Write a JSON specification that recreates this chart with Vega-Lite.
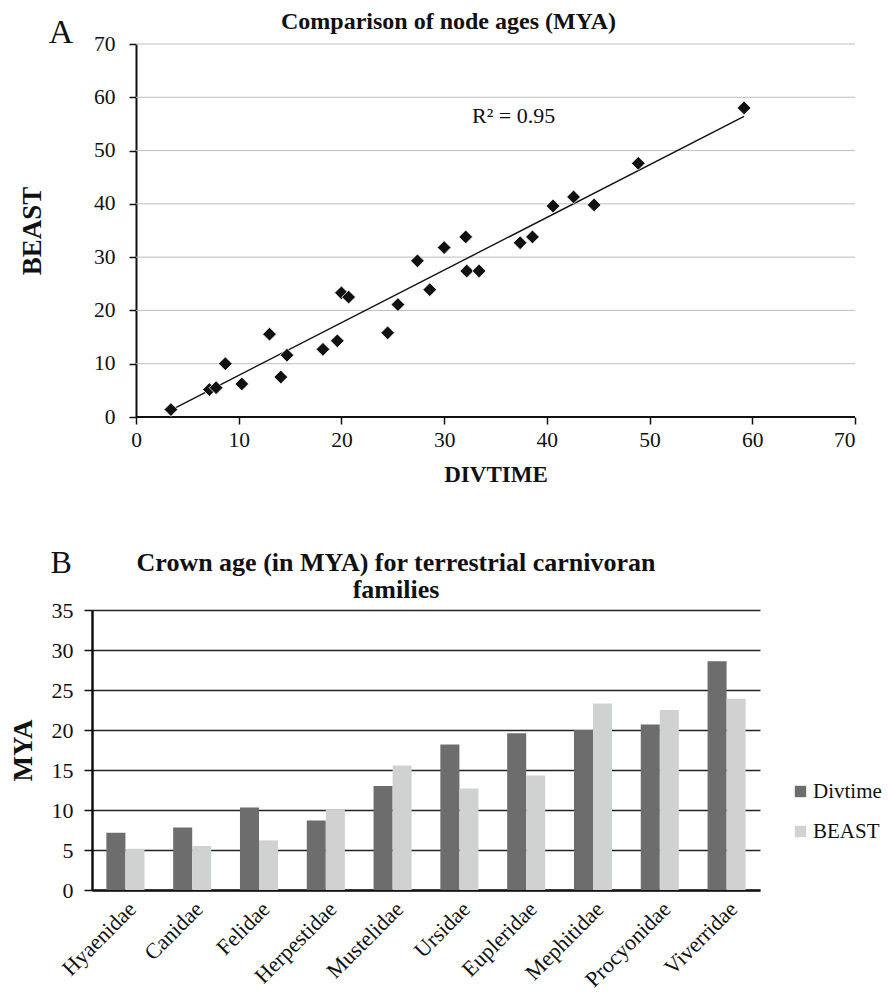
{
  "$schema": "https://vega.github.io/schema/vega-lite/v6.json",
  "background": "white",
  "padding": {"left": 9, "top": 10, "right": 0, "bottom": 0},
  "config": {
    "font": "Liberation Serif",
    "view": {"stroke": null},
    "axis": {"labelFont": "Liberation Serif", "titleFont": "Liberation Serif", "labelColor": "#111", "titleColor": "#111", "domainColor": "#111", "tickColor": "#111"},
    "title": {"font": "Liberation Serif", "fontWeight": "bold", "color": "#111"},
    "legend": {"labelFont": "Liberation Serif"}
  },
  "columns": 1,
  "align": "none",
  "spacing": 59,
  "resolve": {"legend": {"color": "independent"}, "scale": {"color": "independent"}},
  "concat": [
    {
      "width": 763,
      "height": 373,
      "title": {"text": "Comparison of node ages (MYA)", "font": "Liberation Serif", "fontSize": 24, "dx": -25, "offset": -18},
      "data": {"values": [
        {"divtime": 3.4, "beast": 1.4}, {"divtime": 7.15, "beast": 5.15}, {"divtime": 7.8, "beast": 5.5},
        {"divtime": 8.7, "beast": 10.0}, {"divtime": 10.3, "beast": 6.2}, {"divtime": 13.0, "beast": 15.55},
        {"divtime": 14.1, "beast": 7.5}, {"divtime": 14.7, "beast": 11.6}, {"divtime": 18.2, "beast": 12.7},
        {"divtime": 19.6, "beast": 14.3}, {"divtime": 20.0, "beast": 23.3}, {"divtime": 20.7, "beast": 22.5},
        {"divtime": 24.5, "beast": 15.8}, {"divtime": 25.5, "beast": 21.1}, {"divtime": 27.4, "beast": 29.3},
        {"divtime": 28.6, "beast": 23.9}, {"divtime": 30.0, "beast": 31.8}, {"divtime": 32.1, "beast": 33.8},
        {"divtime": 32.2, "beast": 27.4}, {"divtime": 33.4, "beast": 27.4}, {"divtime": 37.4, "beast": 32.7},
        {"divtime": 38.6, "beast": 33.8}, {"divtime": 40.6, "beast": 39.6}, {"divtime": 42.6, "beast": 41.3},
        {"divtime": 44.6, "beast": 39.8}, {"divtime": 48.9, "beast": 47.6}, {"divtime": 59.2, "beast": 58.0}
      ]},
      "encoding": {
        "x": {"field": "divtime", "type": "quantitative", "scale": {"domain": [-4.284, 70], "nice": false, "zero": false},
          "axis": {"values": [0, 10, 20, 30, 40, 50, 60, 70], "grid": false, "domain": false, "tickSize": 7, "tickWidth": 1.5, "labelFont": "Liberation Serif", "labelFontSize": 21.5, "labelPadding": 5, "labelOverlap": false, "title": "DIVTIME", "titleFont": "Liberation Serif", "titleFontSize": 23, "titleFontWeight": "bold", "titlePadding": 13, "titleX": 403.5}},
        "y": {"field": "beast", "type": "quantitative", "scale": {"domain": [0, 70], "nice": false},
          "axis": {"values": [0, 10, 20, 30, 40, 50, 60, 70], "grid": false, "offset": -44, "tickSize": 7, "domainWidth": 2, "tickWidth": 1.5, "labelFont": "Liberation Serif", "labelFontSize": 21.5, "labelPadding": 14, "labelOverlap": false, "title": "BEAST", "titleFont": "Liberation Serif", "titleFontSize": 27, "titleFontWeight": "bold", "titlePadding": 47}}
      },
      "layer": [
        {
          "data": {"values": [
            {"divtime": 0, "divtime2": 70, "beast": 10}, {"divtime": 0, "divtime2": 70, "beast": 20},
            {"divtime": 0, "divtime2": 70, "beast": 30}, {"divtime": 0, "divtime2": 70, "beast": 40},
            {"divtime": 0, "divtime2": 70, "beast": 50}, {"divtime": 0, "divtime2": 70, "beast": 60},
            {"divtime": 0, "divtime2": 70, "beast": 70}
          ]},
          "mark": {"type": "rule", "color": "#bdbdbd", "strokeWidth": 1},
          "encoding": {"x2": {"field": "divtime2"}}
        },
        {
          "data": {"values": [{"divtime": 0, "divtime2": 70, "beast": 0}]},
          "mark": {"type": "rule", "color": "#111", "strokeWidth": 2},
          "encoding": {"x2": {"field": "divtime2"}}
        },
        {
          "transform": [{"regression": "beast", "on": "divtime"}],
          "mark": {"type": "line", "color": "#111", "strokeWidth": 1.4},
          "encoding": {}
        },
        {
          "mark": {"type": "point", "shape": "diamond", "filled": true, "size": 190, "color": "#111", "stroke": "white", "strokeWidth": 0.8, "opacity": 1},
          "encoding": {}
        },
        {
          "data": {"values": [{"divtime": 36.76, "beast": 56.5, "t": "R² = 0.95"}]},
          "mark": {"type": "text", "fontSize": 22, "font": "Liberation Serif", "color": "#111"},
          "encoding": {"text": {"field": "t"}}
        },
        {
          "data": {"values": [{"divtime": -7.3, "beast": 72.0, "t": "A"}]},
          "mark": {"type": "text", "fontSize": 34, "font": "Liberation Serif", "color": "#111"},
          "encoding": {"text": {"field": "t"}}
        }
      ]
    },
    {
      "width": 668,
      "height": 280,
      "title": {"text": ["Crown age (in MYA) for terrestrial carnivoran", "families"], "font": "Liberation Serif", "fontSize": 26, "lineHeight": 27, "dx": -30, "offset": -56},
      "encoding": {
        "y": {"field": "value", "type": "quantitative", "scale": {"domain": [0, 35], "nice": false},
          "axis": {"values": [0, 5, 10, 15, 20, 25, 30, 35], "grid": true, "gridColor": "#222", "gridWidth": 1.5, "tickSize": 8, "tickWidth": 1.5, "domainWidth": 2.5, "labelFont": "Liberation Serif", "labelFontSize": 22, "labelPadding": 11, "labelOverlap": false, "title": "MYA", "titleFont": "Liberation Serif", "titleFontSize": 27, "titleFontWeight": "bold", "titlePadding": 14}}
      },
      "layer": [
        {
          "data": {"values": [
            {"family": "Hyaenidae", "series": "Divtime", "value": 7.15}, {"family": "Hyaenidae", "series": "BEAST", "value": 5.15},
            {"family": "Canidae", "series": "Divtime", "value": 7.8}, {"family": "Canidae", "series": "BEAST", "value": 5.5},
            {"family": "Felidae", "series": "Divtime", "value": 10.3}, {"family": "Felidae", "series": "BEAST", "value": 6.2},
            {"family": "Herpestidae", "series": "Divtime", "value": 8.7}, {"family": "Herpestidae", "series": "BEAST", "value": 10.0},
            {"family": "Mustelidae", "series": "Divtime", "value": 13.0}, {"family": "Mustelidae", "series": "BEAST", "value": 15.55},
            {"family": "Ursidae", "series": "Divtime", "value": 18.2}, {"family": "Ursidae", "series": "BEAST", "value": 12.7},
            {"family": "Eupleridae", "series": "Divtime", "value": 19.6}, {"family": "Eupleridae", "series": "BEAST", "value": 14.3},
            {"family": "Mephitidae", "series": "Divtime", "value": 20.0}, {"family": "Mephitidae", "series": "BEAST", "value": 23.3},
            {"family": "Procyonidae", "series": "Divtime", "value": 20.7}, {"family": "Procyonidae", "series": "BEAST", "value": 22.5},
            {"family": "Viverridae", "series": "Divtime", "value": 28.6}, {"family": "Viverridae", "series": "BEAST", "value": 23.9}
          ]},
          "mark": {"type": "bar"},
          "encoding": {
            "x": {"field": "family", "type": "nominal",
              "sort": ["Hyaenidae", "Canidae", "Felidae", "Herpestidae", "Mustelidae", "Ursidae", "Eupleridae", "Mephitidae", "Procyonidae", "Viverridae"],
              "scale": {"paddingInner": 0.43, "paddingOuter": 0.215},
              "axis": {"title": null, "labelAngle": -45, "labelFont": "Liberation Serif", "labelFontSize": 22, "ticks": false, "domainWidth": 2.5, "labelPadding": 8, "labelDx": 6, "labelOverlap": false}},
            "xOffset": {"field": "series", "type": "nominal", "sort": ["Divtime", "BEAST"], "scale": {"paddingInner": 0}},
            "color": {"field": "series", "type": "nominal",
              "scale": {"domain": ["Divtime", "BEAST"], "range": ["#6d6d6d", "#d0d2d2"]},
              "legend": {"title": null, "orient": "none", "legendX": 698, "legendY": 171, "symbolType": "square", "symbolSize": 130, "symbolStrokeWidth": 0, "labelFont": "Liberation Serif", "labelFontSize": 21, "labelColor": "#111", "rowPadding": 18, "labelOffset": 2}}
          }
        },
        {
          "data": {"values": [{"px": -0.46, "value": 40.9, "t": "B"}]},
          "mark": {"type": "text", "fontSize": 32, "font": "Liberation Serif", "color": "#111"},
          "encoding": {
            "x": {"field": "px", "type": "quantitative", "scale": {"domain": [0, 10]}, "axis": null},
            "text": {"field": "t"}
          }
        }
      ],
      "resolve": {"scale": {"x": "independent"}}
    }
  ]
}
